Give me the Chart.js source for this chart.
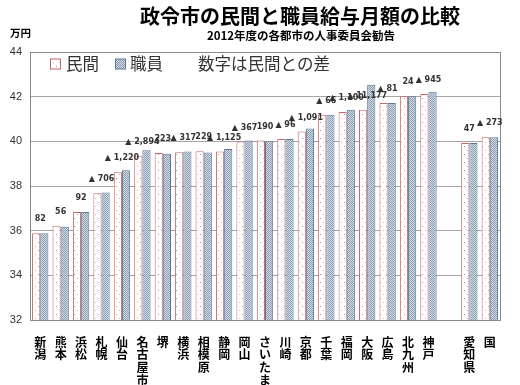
<!DOCTYPE html>
<html><head><meta charset="utf-8">
<script src="https://cdn.jsdelivr.net/npm/chart.js@4.4.1/dist/chart.umd.min.js"></script>
<style>html,body{margin:0;padding:0;background:#fff;}#wrap{width:520px;height:385px;}</style>
</head><body><div id="wrap"><canvas id="c" width="520" height="385"></canvas></div>
<script>
const categories = ['新潟','熊本','浜松','札幌','仙台','名古屋市','堺','横浜','相模原','静岡','岡山','さいたま','川崎','京都','千葉','福岡','大阪','広島','北九州','神戸','','愛知県','国'];
const minkan  = [35.88,36.22,36.84,37.68,38.62,39.33,39.48,39.51,39.56,39.54,39.99,40.04,40.10,40.44,41.19,41.31,41.41,41.72,42.02,42.12,null,39.93,40.18];
const shokuin = [35.88,36.18,36.84,37.71,38.70,39.60,39.44,39.54,39.50,39.66,40.04,40.00,40.10,40.58,41.19,41.41,42.53,41.72,42.02,42.22,null,39.93,40.18];
const diffLabels = ['82','56','92','▲ 706','▲ 1,220','▲ 2,894','223','▲ 317','229','▲ 1,125','▲ 367','190','▲ 96','▲ 1,091','▲ 66','▲ 1,100','▲ 11,177','▲ 81','24','▲ 945','','47','▲ 273'];
const yTicks = [32,34,36,38,40,42,44];
const titleText = '政令市の民間と職員給与月額の比較';
const subtitleText = '2012年度の各都市の人事委員会勧告';
const unitText = '万円';
const noteText = '数字は民間との差';

function makePattern(kind){
  const p = document.createElement('canvas');
  const ctx = p.getContext('2d');
  if(kind==='emp'){
    p.width=2;p.height=2;
    ctx.fillStyle='#d3dde8';ctx.fillRect(0,0,2,2);
    ctx.fillStyle='#8a9cb0';ctx.fillRect(0,0,1,1);ctx.fillRect(1,1,1,1);
  } else {
    p.width=6;p.height=8;
    ctx.fillStyle='#ffffff';ctx.fillRect(0,0,6,8);
    ctx.fillStyle='#9a9a9a';ctx.fillRect(2,2,1,1);
    ctx.fillStyle='#d8b8b8';ctx.fillRect(5,6,1,1);
  }
  return document.getElementById('c').getContext('2d').createPattern(p,'repeat');
}
const patMin = makePattern('min');
const patEmp = makePattern('emp');

const decor = {
  id:'decor',
  afterDatasetsDraw(chart){
    const ctx = chart.ctx, ca = chart.chartArea;
    const x = chart.scales.x, y = chart.scales.y;
    ctx.save();
    ctx.strokeStyle='#8a8a8a';ctx.lineWidth=1;
    ctx.strokeRect(Math.round(ca.left)+0.5,Math.round(ca.top)+0.5,Math.round(ca.right-ca.left),Math.round(ca.bottom-ca.top));
    ctx.fillStyle='#333';
    ctx.font='bold 8px "DejaVu Sans"';
    ctx.textAlign='center';ctx.textBaseline='middle';
    diffLabels.forEach((t,i)=>{
      if(!t||minkan[i]==null) return;
      const px = x.getPixelForValue(i);
      const py = y.getPixelForValue(minkan[i]) - 14;
      ctx.fillText(t,px,py);
    });
    const lt = ca.top+12;
    ctx.fillStyle=patMin;ctx.fillRect(50.5,lt-5,10,10);
    ctx.strokeStyle='#c06666';ctx.strokeRect(50.5,lt-5,10,10);
    ctx.fillStyle=patEmp;ctx.fillRect(115.5,lt-5,10,10);
    ctx.strokeStyle='#5d7896';ctx.strokeRect(115.5,lt-5,10,10);
    ctx.fillStyle='#333';
    ctx.font='16.5px "Noto Sans CJK JP"';
    ctx.textAlign='left';
    ctx.fillText(chart.data.datasets[0].label,66,lt);
    ctx.fillText(chart.data.datasets[1].label,130,lt);
    ctx.fillText(noteText,198,lt);
    ctx.fillStyle='#000';
    ctx.textAlign='center';
    ctx.font='bold 20px "Noto Sans CJK JP"';
    ctx.fillText(titleText,300,16);
    ctx.font='bold 11.5px "Noto Sans CJK JP"';
    ctx.fillText(subtitleText,301,36);
    ctx.textAlign='left';
    ctx.font='bold 10.5px "Noto Sans CJK JP"';
    ctx.fillText(unitText,10,33);
    ctx.restore();
  }
};

new Chart(document.getElementById('c'),{
  type:'bar',
  data:{
    labels: categories.map(s=>s.split('')),
    datasets:[
      {label:'民間',data:minkan,backgroundColor:patMin,borderColor:'#c86a6a',borderWidth:{top:1,left:1,right:1,bottom:0},borderSkipped:false,categoryPercentage:0.8,barPercentage:1.0},
      {label:'職員',data:shokuin,backgroundColor:patEmp,borderColor:'#5d7896',borderWidth:{top:1,left:1,right:1,bottom:0},borderSkipped:false,categoryPercentage:0.8,barPercentage:1.0}
    ]
  },
  options:{
    responsive:false,animation:false,
    layout:{padding:{top:52,right:20,left:0,bottom:0}},
    plugins:{legend:{display:false},tooltip:{enabled:false},title:{display:false}},
    scales:{
      x:{
        grid:{display:false},
        border:{display:true,color:'#8a8a8a'},
        ticks:{autoSkip:false,maxRotation:0,minRotation:0,padding:8,color:'#000',font:{family:'"Noto Sans CJK JP"',weight:'bold',size:12,lineHeight:1.05}},
        afterFit(s){s.height=65;}
      },
      y:{
        min:yTicks[0],max:yTicks[yTicks.length-1],
        afterBuildTicks(s){s.ticks=yTicks.map(v=>({value:v}));},
        grid:{color:'#a6a6a6',drawTicks:false},
        border:{display:true,color:'#8a8a8a'},
        ticks:{padding:8,color:'#333',font:{family:'"Liberation Sans"',size:11}},
        afterFit(s){s.width=30;}
      }
    }
  },
  plugins:[decor]
});
</script></body></html>
